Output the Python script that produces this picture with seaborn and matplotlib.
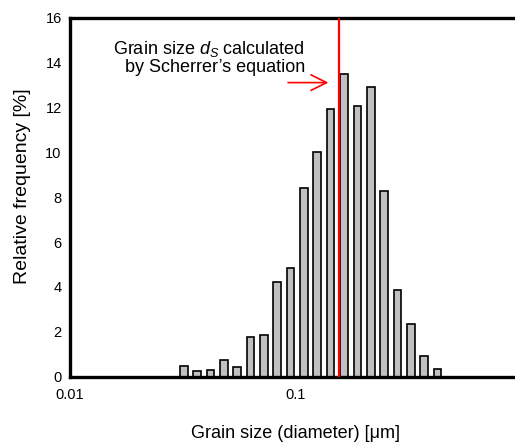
import numpy as np
import pandas as pd
import matplotlib
matplotlib.use("Agg")
import matplotlib.pyplot as plt
from matplotlib.ticker import NullLocator, FixedLocator
import seaborn as sns

# ---- data ----
bin_centers_um = [0.0320, 0.0367, 0.0420, 0.0482, 0.0552, 0.0633, 0.0725, 0.0832,
                  0.0953, 0.1093, 0.1253, 0.1436, 0.1646, 0.1887, 0.2163, 0.2479,
                  0.2842, 0.3258, 0.3734, 0.4280]
rel_freq = [0.46, 0.27, 0.31, 0.73, 0.43, 1.76, 1.87, 4.23, 4.86, 8.40,
            10.02, 11.92, 13.48, 12.06, 12.90, 8.28, 3.85, 2.34, 0.92, 0.34]
scherrer_ds = 0.157
x_ticks = [0.01, 0.1]
x_tick_labels = ["0.01", "0.1"]
y_ticks = [0, 2, 4, 6, 8, 10, 12, 14, 16]

sns.set_theme(style="white")
plt.rcParams["font.family"] = ["Liberation Sans", "DejaVu Sans"]
plt.rcParams["mathtext.fontset"] = "custom"
plt.rcParams["mathtext.it"] = "Liberation Sans:italic"
plt.rcParams["mathtext.rm"] = "Liberation Sans"

W, H = 515, 443
fig = plt.figure(figsize=(W / 100, H / 100), dpi=100)
# axes extends slightly beyond the right edge (reference is cropped there)
left_px, right_px, top_px, bot_px = 70, 520.5, 17.5, 376.7
ax = fig.add_axes([left_px / W, 1 - bot_px / H, (right_px - left_px) / W, (bot_px - top_px) / H])

df = pd.DataFrame({"size": bin_centers_um, "freq": rel_freq})
sns.barplot(data=df, x="size", y="freq", native_scale=True, log_scale=(True, False),
            orient="x", width=0.58, color="#c0c0c0", saturation=1,
            edgecolor="black", linewidth=1.2, ax=ax)

ax.set_xlim(0.01, 1.0)
ax.set_ylim(0, 16)
ax.xaxis.set_major_locator(FixedLocator(x_ticks))
ax.set_xticklabels(x_tick_labels)
ax.xaxis.set_minor_locator(NullLocator())
ax.set_yticks(y_ticks)
ax.tick_params(axis="both", length=0, labelsize=10.5, colors="black")
ax.tick_params(axis="x", pad=8)
ax.tick_params(axis="y", pad=6)

for side in ["left", "bottom", "top"]:
    ax.spines[side].set_visible(True)
    ax.spines[side].set_color("black")
    ax.spines[side].set_linewidth(2.4)
ax.spines["right"].set_visible(False)

ax.axvline(scherrer_ds, color="red", lw=1.6, zorder=3)

axh = bot_px - top_px
axw = right_px - left_px
ax.set_xlabel("Grain size (diameter) [\u03bcm]", fontsize=13, color="black", va="center")
ax.xaxis.set_label_coords(0.5, -(433 - bot_px) / axh)
ax.set_ylabel("Relative frequency [%]", fontsize=14, color="black", va="center", ha="center")
ax.yaxis.set_label_coords(-(left_px - 23) / axw, (bot_px - 186.5) / axh)

ax.text(0.1107, 14.2, "Grain size $d_S$ calculated\nby Scherrer\u2019s equation",
        ha="right", va="center", multialignment="right", fontsize=13, color="black",
        linespacing=1.0)
ax.annotate("", xy=(0.1444, 13.1), xytext=(0.0903, 13.1),
            arrowprops=dict(arrowstyle="->,head_length=0.8,head_width=0.4",
                            color="red", lw=1.2, mutation_scale=14))

fig.savefig("out.png", dpi=100)
